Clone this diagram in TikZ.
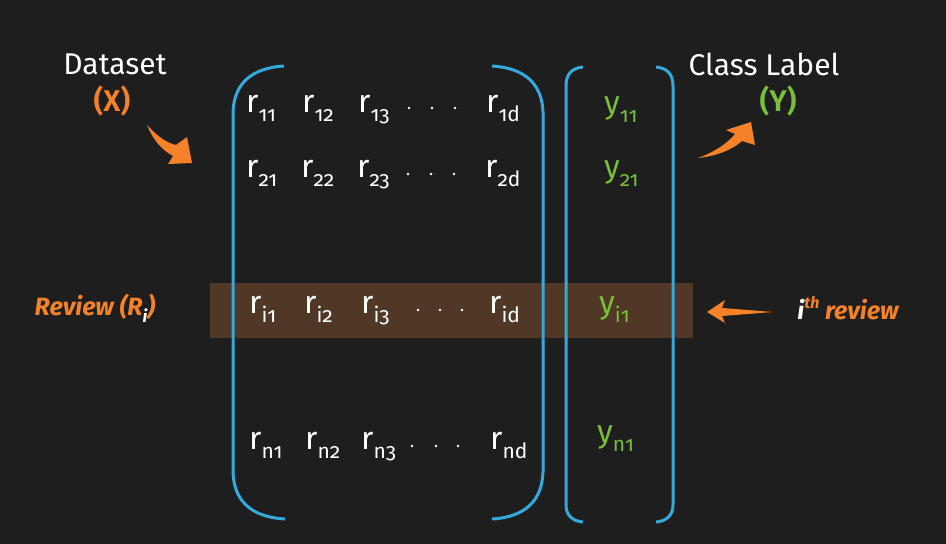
\documentclass[tikz,border=0pt]{standalone}
\usepackage{fontspec}
\setmainfont[Numbers=OldStyle,ItalicFont=* Bold Italic,BoldFont=* SemiBold]{Fira Sans}
\newfontfamily\medfont[Numbers=OldStyle]{Fira Sans Medium}
\definecolor{board}{RGB}{30,30,30}
\definecolor{brk}{RGB}{52,170,220}
\definecolor{org}{RGB}{245,130,40}
\definecolor{grn}{RGB}{120,190,60}
\definecolor{band}{RGB}{90,60,40}
\newcommand\sbs[1]{\raisebox{-0.3em}{\fontsize{21}{21}\selectfont #1}}
\begin{document}
\begin{tikzpicture}[x=1pt,y=-1pt,
  ent/.style={anchor=base west,inner sep=0pt,text=white,font=\fontsize{32}{32}\selectfont},
  yent/.style={ent,text=grn},
  ttl/.style={text=white,font=\fontsize{30}{30}\selectfont,inner sep=0pt},
  brkline/.style={draw=brk,line width=3pt},
  dotm/.style={circle,fill=white,inner sep=0pt,minimum size=2.6pt}]
\fill[board] (0,0) rectangle (946,544);
\useasboundingbox (0,0) rectangle (946,544);
% highlight band
\fill[band,opacity=0.85] (210,283) rectangle (693,338);
% brackets
\draw[brkline] (284,66) .. controls (250,68) and (234,85) .. (233,112) -- (233,472) .. controls (234,500) and (250,517) .. (285,519);
\draw[brkline] (492,66) .. controls (526,68) and (542,85) .. (543,112) -- (543,472) .. controls (542,500) and (526,517) .. (492,519);
\draw[brkline] (583,67) .. controls (572,68) and (566,74) .. (566,86) -- (566,505) .. controls (566,515) and (572,521) .. (583,522);
\draw[brkline] (656,67) .. controls (667,68) and (673,74) .. (673,86) -- (673,505) .. controls (673,515) and (667,521) .. (656,522);
% matrix entries
\node[ent] (r11) at (246,112) {r\sbs{11}};
\node[ent] (r12) at (302,112) {r\sbs{12}};
\node[ent] (r13) at (358,112) {r\sbs{13}};
\node[ent] (r1d) at (486,112) {r\sbs{1d}};
\node[ent] (r21) at (246,177) {r\sbs{21}};
\node[ent] (r22) at (301,177) {r\sbs{22}};
\node[ent] (r23) at (357,177) {r\sbs{23}};
\node[ent] (r2d) at (485,177) {r\sbs{2d}};
\node[ent] (ri1) at (249,313) {r\sbs{i1}};
\node[ent] (ri2) at (304,313) {r\sbs{i2}};
\node[ent] (ri3) at (361,313) {r\sbs{i3}};
\node[ent] (rid) at (489,313) {r\sbs{id}};
\node[ent] (rn1) at (249,449) {r\sbs{n1}};
\node[ent] (rn2) at (305,449) {r\sbs{n2}};
\node[ent] (rn3) at (361,449) {r\sbs{n3}};
\node[ent] (rnd) at (490,449) {r\sbs{nd}};
% dots
\foreach \x in {409,432,455} \node[dotm] at (\x,108) {};
\foreach \x in {408,431,454} \node[dotm] at (\x,174) {};
\foreach \x in {418,440,462} \node[dotm] at (\x,310) {};
\foreach \x in {412,436,458} \node[dotm] at (\x,446) {};
% y entries
\node[yent] (y11) at (604,113) {y\sbs{11}};
\node[yent] (y21) at (604,177) {y\sbs{21}};
\node[yent] (yi1) at (599,313) {y\sbs{i1}};
\node[yent] (yn1) at (597,442) {y\sbs{n1}};
% titles
\node[ttl] (ds) at (115,64) {Dataset};
\node[ttl,text=org,font=\fontsize{30}{30}\selectfont\bfseries] (dx) at (112,101) {(X)};
\node[ttl] (cl) at (764,64) {Class Label};
\node[ttl,text=grn,font=\fontsize{30}{30}\selectfont\bfseries] (cy) at (778,101) {(Y)};
% side labels
\node[text=org,inner sep=0pt,font=\fontsize{25}{25}\selectfont\itshape] (rev) at (95,308) {Review (R\raisebox{-0.3em}{\textcolor{white}{\fontsize{17}{17}\selectfont i}})};
\node[text=org,inner sep=0pt,font=\fontsize{25}{25}\selectfont\itshape] (ith) at (848,308) {\textcolor{white}{i}\raisebox{0.45em}{\fontsize{16}{16}\selectfont th} review};
% arrows
\fill[org] (147,125) .. controls (158,137) and (167,143) .. (176,145) -- (187,137) -- (192,163) -- (168,164) -- (173,156) .. controls (162,150) and (153,140) .. cycle;
\fill[org] (698,158) .. controls (718,156) and (733,149) .. (742,141) -- (755,145) -- (751,122) -- (726,130) -- (735,134) .. controls (726,145) and (712,153) .. cycle;
\fill[org] (707,312) -- (725,300) -- (722,308) -- (773,312) -- (722,316) -- (725,323) -- cycle;
\end{tikzpicture}
\end{document}
